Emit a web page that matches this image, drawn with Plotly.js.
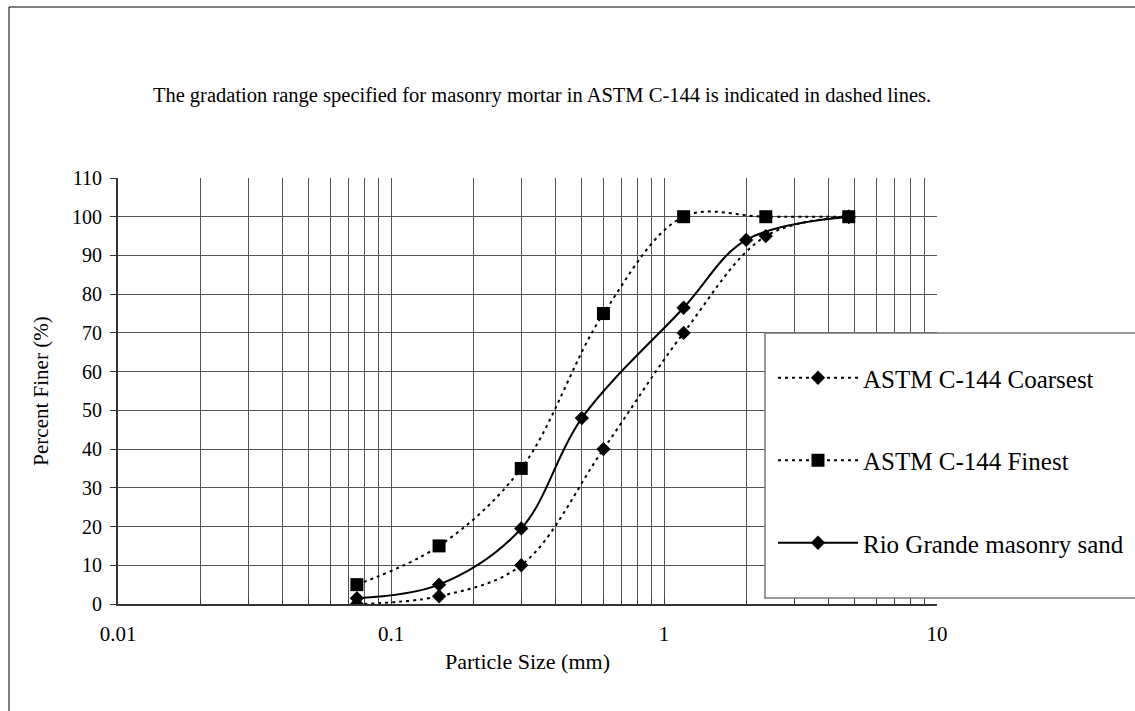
<!DOCTYPE html>
<html>
<head>
<meta charset="utf-8">
<script src="https://cdn.plot.ly/plotly-3.0.1.min.js"></script>
<style>html,body{margin:0;padding:0;background:#fff;}#chart{width:1135px;height:711px;}</style>
</head>
<body>
<div id="chart"></div>
<script>
// Data
const sieveSizes = [0.075, 0.15, 0.3, 0.6, 1.18, 2.36, 4.75];
const coarsest   = [0, 2, 10, 40, 70, 95, 100];
const finest     = [5, 15, 35, 75, 100, 100, 100];
const rioSizes   = [0.075, 0.15, 0.3, 0.5, 1.18, 2.0, 4.75];
const rioGrande  = [1.5, 5, 19.5, 48, 76.5, 94, 100];
const seriesNames = ["ASTM C-144 Coarsest", "ASTM C-144 Finest", "Rio Grande masonry sand"];
const decadeLabels = ["0.01", "0.1", "1", "10"];

// Tick positions: every 1..9 multiple within decades 0.01..10
const decades = [0.01, 0.1, 1, 10];
const xTickVals = [], xTickText = [];
decades.forEach((d, i) => {
  const maxM = (i === decades.length - 1) ? 1 : 9;
  for (let m = 1; m <= maxM; m++) {
    xTickVals.push(+(d * m).toPrecision(3));
    xTickText.push(m === 1 ? decadeLabels[i] : "");
  }
});

const FONT = "Liberation Serif, Times New Roman, serif";
const dashPattern = "3px,4px";

const traces = [
  {x: sieveSizes, y: coarsest, name: seriesNames[0], legendgroup: "a",
   mode: "lines+markers", line: {color: "#000", width: 2, dash: dashPattern, shape: "spline", smoothing: 1},
   marker: {symbol: "diamond", size: 11, color: "#000"}},
  {x: sieveSizes, y: finest, name: seriesNames[1], legendgroup: "b",
   mode: "lines+markers", line: {color: "#000", width: 2, dash: dashPattern, shape: "spline", smoothing: 1},
   marker: {symbol: "square", size: 13, color: "#000"}},
  {x: rioSizes, y: rioGrande, name: seriesNames[2], legendgroup: "c",
   mode: "lines+markers", line: {color: "#000", width: 2, shape: "spline", smoothing: 1},
   marker: {symbol: "diamond", size: 11, color: "#000"}}
];

const layout = {
  width: 1135, height: 711,
  margin: {l: 118, r: 198, t: 178, b: 107, pad: 0, autoexpand: false},
  paper_bgcolor: "#fff", plot_bgcolor: "#fff",
  font: {family: FONT, color: "#000", size: 20},
  title: {text: "The gradation range specified for masonry mortar in ASTM C-144 is indicated in dashed lines.",
          font: {family: FONT, size: 20.5, color: "#000"},
          x: 542 / 1135, xanchor: "center", xref: "container", y: 1 - 95/711, yanchor: "middle", yref: "container"},
  xaxis: {type: "log", range: [-2, 1], tickmode: "array", tickvals: xTickVals, ticktext: xTickText,
          showgrid: true, gridcolor: "#555", gridwidth: 1,
          showline: true, linecolor: "#333", linewidth: 2,
          ticks: "inside", ticklen: 5, tickcolor: "#333", ticklabelstandoff: 10,
          tickfont: {family: FONT, size: 21, color: "#000"},
          zeroline: false, automargin: false,
          title: {text: "Particle Size (mm)", font: {family: FONT, size: 22, color: "#000"}, standoff: 8}},
  yaxis: {range: [0, 110], dtick: 10, tick0: 0,
          showgrid: true, gridcolor: "#555", gridwidth: 1,
          showline: true, linecolor: "#333", linewidth: 2,
          ticks: "outside", ticklen: 6, tickcolor: "#333", ticklabelstandoff: 4,
          tickfont: {family: FONT, size: 20, color: "#000"},
          zeroline: false, automargin: false,
          title: {text: "Percent Finer (%)", font: {family: FONT, size: 21, color: "#000"}, standoff: 18}},
  showlegend: true,
  legend: {x: (773 - 118) / 819, xanchor: "left", y: (604 - 355) / 426, yanchor: "top",
           bgcolor: "rgba(0,0,0,0)", borderwidth: 0, tracegroupgap: 47,
           font: {family: FONT, size: 25, color: "#000"}, itemwidth: 80},
  shapes: [
    {type: "rect", xref: "paper", yref: "paper", x0: (765 - 118) / 819, x1: 1.3,
     y0: (604 - 598) / 426, y1: (604 - 333) / 426, line: {color: "#777", width: 1.5}, fillcolor: "#fff", layer: "above"},
    {type: "rect", xref: "paper", yref: "paper", x0: (9 - 118) / 819, x1: 1.3,
     y0: (604 - 730) / 426, y1: (604 - 7) / 426, line: {color: "#000", width: 1}, fillcolor: "rgba(0,0,0,0)", layer: "below"}
  ]
};

Plotly.newPlot("chart", traces, layout, {displayModeBar: false, staticPlot: true});
</script>
</body>
</html>
